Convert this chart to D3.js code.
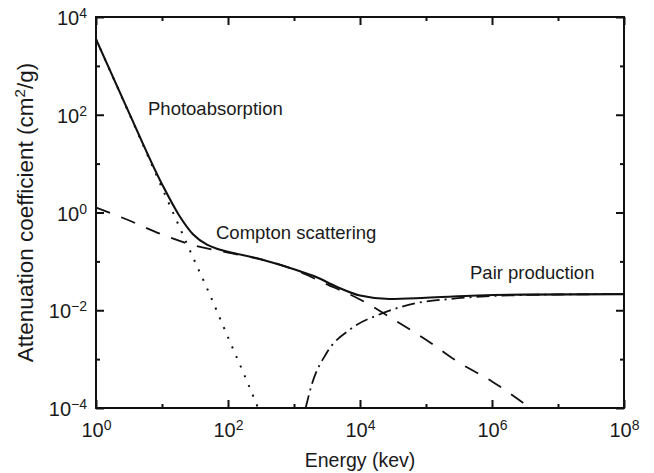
<!DOCTYPE html>
<html>
<head>
<meta charset="utf-8">
<script src="https://cdn.jsdelivr.net/npm/d3@7/dist/d3.min.js"></script>
<style>
  body { margin: 0; background: #fff; }
  text { font-family: "Liberation Sans", Arial, Helvetica, sans-serif; fill: #1a1a1a; }
</style>
</head>
<body>
<svg id="chart"></svg>
<script>
// values (energy in keV, coefficient in cm^2/g)
const totalE = [1, 3, 10, 18, 30, 48, 68, 100, 300, 1000, 2000, 4500, 1e4, 2.8e4, 1e5, 6e5, 3e6, 1e8];
const total = [3500, 129, 3.8, 0.89, 0.35, 0.22, 0.182, 0.158, 0.112, 0.069, 0.05, 0.03, 0.02, 0.017, 0.018, 0.02, 0.0209, 0.0214];

const photoE = [1, 3, 10, 30, 50, 100, 200, 290];
const photo = [3500, 126, 3.2, 0.115, 0.025, 2.8e-3, 3.2e-4, 9.5e-5];

const comptonE = [1, 3, 10, 30, 100, 300, 1000, 3000, 1e4, 3e4, 1e5, 3e5, 1e6, 4e6];
const compton = [1.26, 0.71, 0.355, 0.214, 0.151, 0.112, 0.068, 0.035, 0.0166, 6.9e-3, 2.5e-3, 8.9e-4, 3.5e-4, 9.5e-5];

const pairE = [1500, 1850, 3100, 7000, 2.2e4, 7.2e4, 2.3e5, 1e6, 1e7, 1e8];
const pair = [1e-4, 2.95e-4, 1.32e-3, 4e-3, 8.7e-3, 0.014, 0.017, 0.0195, 0.021, 0.0214];

const xMajor = [1, 1e2, 1e4, 1e6, 1e8];
const xMinor = [10, 1e3, 1e5, 1e7];
const xLabels = ["0", "2", "4", "6", "8"];
const yMajor = [1e-4, 1e-2, 1, 1e2, 1e4];
const yMinor = [1e-3, 1e-1, 10, 1e3];
const yLabels = ["\u22124", "\u22122", "0", "2", "4"];

const width = 654;
const height = 473;
const margin = { top: 17, left: 96, bottom: 65, right: 30 };
const iwidth = width - margin.left - margin.right;
const iheight = height - margin.top - margin.bottom;

const svg = d3.select("#chart").attr("width", width).attr("height", height);
const g = svg.append("g").attr("transform", `translate(${margin.left},${margin.top})`);

const x = d3.scaleLog().domain([1, 1e8]).range([0, iwidth]);
const y = d3.scaleLog().domain([1e-4, 1e4]).range([iheight, 0]);

g.append("clipPath").attr("id", "plot")
  .append("rect").attr("width", iwidth).attr("height", iheight);

const line = d3.line()
  .x((d) => x(d[0]))
  .y((d) => y(d[1]))
  .curve(d3.curveMonotoneX);

const series = [
  { e: photoE, v: photo, dash: "2,8.5", w: 2 },
  { e: comptonE, v: compton, dash: "15,12", w: 1.8 },
  { e: pairE, v: pair, dash: "13,5,2,5", w: 1.8 },
  { e: totalE, v: total, dash: null, w: 2.1 },
];

g.append("g").attr("clip-path", "url(#plot)")
  .selectAll("path")
  .data(series)
  .enter()
  .append("path")
  .attr("d", (s) => line(s.e.map((e, i) => [e, s.v[i]])))
  .attr("fill", "none")
  .attr("stroke", "#111")
  .attr("stroke-width", (s) => s.w)
  .attr("stroke-dasharray", (s) => s.dash);

// ticks on all four sides, pointing inward
function ticks(axis, values, size, transform) {
  const a = g.append("g")
    .attr("transform", transform)
    .call(axis.tickValues(values).tickSizeInner(-size).tickSizeOuter(0).tickFormat(""));
  a.select(".domain").remove();
  a.selectAll("line").attr("stroke", "#111").attr("stroke-width", 2);
  return a;
}

const xb = ticks(d3.axisBottom(x), xMajor, 8, `translate(0,${iheight})`);
ticks(d3.axisBottom(x), xMinor, 4, `translate(0,${iheight})`);
ticks(d3.axisTop(x), xMajor, 8, "translate(0,0)");
ticks(d3.axisTop(x), xMinor, 4, "translate(0,0)");
const yl = ticks(d3.axisLeft(y), yMajor, 8, "translate(0,0)");
ticks(d3.axisLeft(y), yMinor, 4, "translate(0,0)");
ticks(d3.axisRight(y), yMajor, 8, `translate(${iwidth},0)`);
ticks(d3.axisRight(y), yMinor, 4, `translate(${iwidth},0)`);

function powLabel(sel, labels) {
  sel.selectAll(".tick text")
    .attr("font-size", 20)
    .attr("font-family", null)
    .each(function (d, i) {
      const t = d3.select(this).text("10");
      t.append("tspan").attr("dy", -7).attr("font-size", 14).text(labels[i]);
    });
}
powLabel(xb, xLabels);
xb.selectAll(".tick text").attr("y", 29).attr("dy", 0);
powLabel(yl, yLabels);
yl.selectAll(".tick text").attr("x", -9).attr("dy", "0.38em");

g.append("rect")
  .attr("width", iwidth)
  .attr("height", iheight)
  .attr("fill", "none")
  .attr("stroke", "#111")
  .attr("stroke-width", 2);

// axis titles
svg.append("text")
  .attr("x", margin.left + iwidth / 2)
  .attr("y", 467)
  .attr("text-anchor", "middle")
  .attr("font-size", 19.5)
  .text("Energy (kev)");

const yt = svg.append("text")
  .attr("transform", `translate(33,${margin.top + iheight / 2}) rotate(-90)`)
  .attr("text-anchor", "middle")
  .attr("font-size", 22.5)
  .text("Attenuation coefficient (cm");
yt.append("tspan").attr("dy", -8).attr("font-size", 15).text("2");
yt.append("tspan").attr("dy", 8).text("/g)");

// curve annotations
const notes = [
  { t: "Photoabsorption", x: 148, y: 115 },
  { t: "Compton scattering", x: 216, y: 239 },
  { t: "Pair production", x: 470, y: 279 },
];
svg.selectAll(".note")
  .data(notes)
  .enter()
  .append("text")
  .attr("class", "note")
  .attr("x", (d) => d.x)
  .attr("y", (d) => d.y)
  .attr("font-size", 18.5)
  .text((d) => d.t);
</script>
</body>
</html>
